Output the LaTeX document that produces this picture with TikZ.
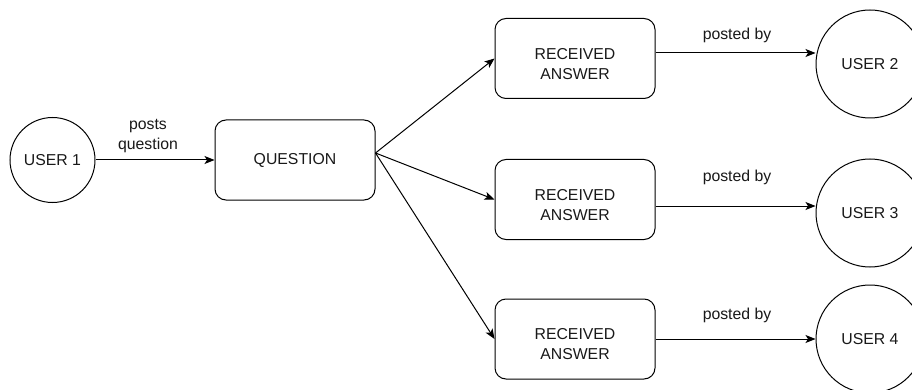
\documentclass[tikz,border=0pt]{standalone}
\usepackage{fontspec}
\setmainfont{Liberation Sans}
\usetikzlibrary{arrows.meta}
% extra height above the first line pushes the two-line box text slightly down
\newcommand{\upperstrut}{\rule{0pt}{21.5pt}}
\begin{document}
\begin{tikzpicture}[x=1pt,y=-1pt,
  every node/.style={font=\fontsize{15.8}{20}\selectfont, text=black!90},
  usernode/.style={draw, circle, line width=1pt, inner sep=0pt},
  boxnode/.style={draw, rounded corners=11pt, line width=1pt, minimum width=160pt, minimum height=80pt, align=center, inner sep=0pt},
  lbl/.style={align=center, inner sep=0pt},
  arr/.style={draw, line width=1pt, -{Stealth[length=10pt, width=8pt, inset=2.5pt]}}]
  \clip (0,0) rectangle (912,390);
  \fill[white] (0,0) rectangle (912,390);

  % people
  \node[usernode, minimum size=85pt] (u1) at (52.5,160) {USER 1};
  \node[usernode, minimum size=108pt] (u2) at (870,64) {USER 2};
  \node[usernode, minimum size=108pt] (u3) at (870,213) {USER 3};
  \node[usernode, minimum size=108pt] (u4) at (870,339) {USER 4};

  % question and answers
  \node[boxnode] (q) at (295,160) {QUESTION};
  \node[boxnode] (a1) at (575,58.5) {\upperstrut RECEIVED\\ANSWER};
  \node[boxnode] (a2) at (575,199.5) {\upperstrut RECEIVED\\ANSWER};
  \node[boxnode] (a3) at (575,339) {\upperstrut RECEIVED\\ANSWER};

  % connectors
  \draw[arr] (u1.east) -- (q.west);
  \coordinate (qs) at ([yshift=7pt]q.east);
  \draw[arr] (qs) -- (a1.west);
  \draw[arr] (qs) -- (a2.west);
  \draw[arr] (qs) -- (a3.west);
  \draw[arr] ([yshift=5.5pt]a1.east) -- ([yshift=5.5pt]a1.east -| u2.west);
  \draw[arr] ([yshift=-6.5pt]a2.east) -- ([yshift=-6.5pt]a2.east -| u3.west);
  \draw[arr] (a3.east) -- (u4.west);

  % connector labels
  \node[lbl] (l1) at (148,136) {posts\\question};
  \node[lbl] (l2) at (737,35) {posted by};
  \node[lbl] (l3) at (737,177) {posted by};
  \node[lbl] (l4) at (737,315) {posted by};
\end{tikzpicture}
\end{document}
